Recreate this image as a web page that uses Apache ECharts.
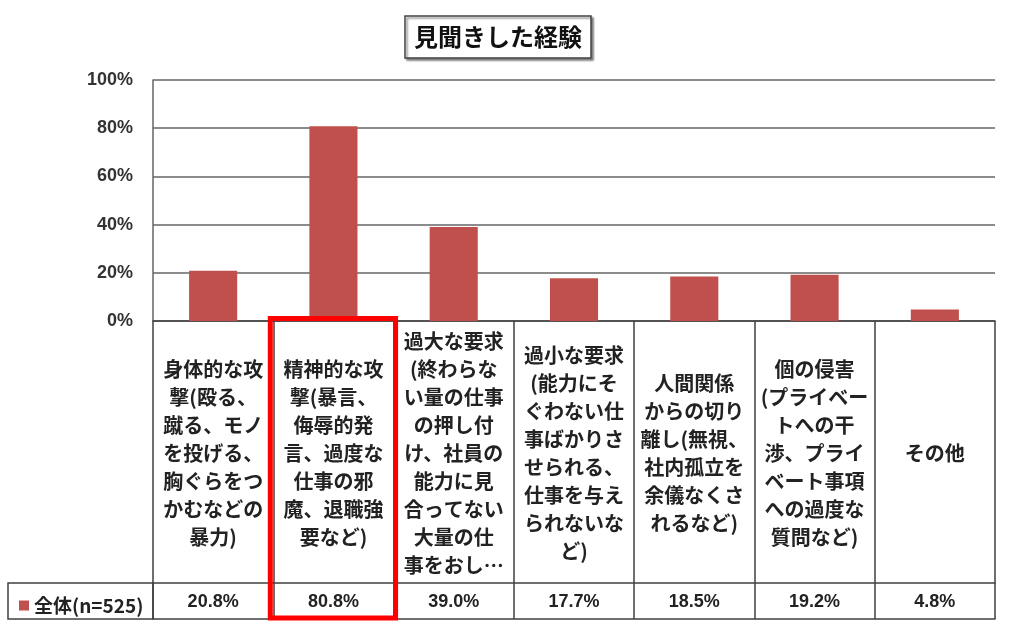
<!DOCTYPE html>
<html>
<head>
<meta charset="utf-8">
<script src="https://cdn.jsdelivr.net/npm/echarts@6/dist/echarts.min.js"></script>
<style>html,body{margin:0;padding:0;background:#fff}#c{width:1024px;height:641px}</style>
</head>
<body>
<div id="c"></div>
<script>
const titleText = '見聞きした経験';
const seriesName = '全体(n=525)';
const categories = [
  '身体的な攻\n撃(殴る、\n蹴る、モノ\nを投げる、\n胸ぐらをつ\nかむなどの\n暴力)',
  '精神的な攻\n撃(暴言、\n侮辱的発\n言、過度な\n仕事の邪\n魔、退職強\n要など)',
  '過大な要求\n(終わらな\nい量の仕事\nの押し付\nけ、社員の\n能力に見\n合ってない\n大量の仕\n事をおし…',
  '過小な要求\n(能力にそ\nぐわない仕\n事ばかりさ\nせられる、\n仕事を与え\nられないな\nど)',
  '人間関係\nからの切り\n離し(無視、\n社内孤立を\n余儀なくさ\nれるなど)',
  '個の侵害\n(プライベー\nトへの干\n渉、プライ\nベート事項\nへの過度な\n質問など)',
  'その他'
];
const values = [20.8, 80.8, 39.0, 17.7, 18.5, 19.2, 4.8];
const yTicks = {min: 0, max: 100, interval: 20};
const highlightIndex = 1;

const barColor = '#C0504D';
const lineColor = '#404040';
const numFont = '"Liberation Sans", Arial, "Noto Sans CJK JP", sans-serif';
const jpFont = '"Noto Sans CJK JP", sans-serif';

const chart = echarts.init(document.getElementById('c'));
const gridTop = 80, gridBottom = 320;
const labelRowH = 262, valueRowH = 36;

chart.setOption({
  backgroundColor: '#fff',
  animation: false,
  title: {
    text: titleText,
    left: 405, top: 16,
    padding: [8, 9],
    borderColor: '#444',
    borderWidth: 1.5,
    backgroundColor: '#fff',
    shadowColor: 'rgba(0,0,0,0.45)',
    shadowOffsetX: 2, shadowOffsetY: 2, shadowBlur: 2,
    textStyle: {fontFamily: jpFont, fontWeight: 'bold', fontSize: 24, color: '#111', lineHeight: 26}
  },
  legend: {
    data: [seriesName],
    left: 14, top: 591,
    icon: 'rect', itemWidth: 10, itemHeight: 10,
    textStyle: {fontFamily: jpFont, fontWeight: 'bold', fontSize: 19, color: '#222'},
    selectedMode: false
  },
  grid: {left: 153, right: 29, top: gridTop, bottom: gridBottom},
  xAxis: [
    {
      type: 'category', data: categories, position: 'bottom',
      axisLine: {show: true, lineStyle: {color: lineColor, width: 1.5}},
      axisTick: {show: true, interval: 0, length: labelRowH + valueRowH, lineStyle: {color: lineColor, width: 1.5}},
      axisLabel: {
        interval: 0, margin: 132, verticalAlign: 'middle', align: 'center',
        fontFamily: jpFont, fontWeight: 'bold', fontSize: 20, lineHeight: 28, color: '#222'
      }
    },
    {
      type: 'category', data: categories, position: 'bottom', offset: labelRowH,
      axisLine: {show: true, lineStyle: {color: lineColor, width: 1.5}},
      axisTick: {show: false},
      axisLabel: {
        interval: 0, margin: 19, verticalAlign: 'middle',
        fontFamily: numFont, fontWeight: 'bold', fontSize: 18, color: '#222',
        formatter: (v, i) => values[i].toFixed(1) + '%'
      }
    },
    {
      type: 'category', data: categories, position: 'bottom', offset: labelRowH + valueRowH,
      axisLine: {show: true, lineStyle: {color: lineColor, width: 1.5}},
      axisTick: {show: false}, axisLabel: {show: false}
    }
  ],
  yAxis: {
    type: 'value', min: yTicks.min, max: yTicks.max, interval: yTicks.interval,
    axisLine: {show: true, lineStyle: {color: '#666', width: 1.5}},
    axisTick: {show: false},
    axisLabel: {formatter: '{value}%', margin: 20, fontFamily: numFont, fontWeight: 'bold', fontSize: 18, color: '#333'},
    splitLine: {lineStyle: {color: '#666', width: 1.5}}
  },
  series: [{
    name: seriesName, type: 'bar', data: values, xAxisIndex: 0,
    barWidth: '40%', itemStyle: {color: barColor}
  }]
});

// decorative table header frame and highlight box, positioned from the axis scales
const c0 = chart.convertToPixel({xAxisIndex: 0}, categories[0]);
const c1 = chart.convertToPixel({xAxisIndex: 0}, categories[1]);
const bw = c1 - c0;
const y0 = chart.convertToPixel({yAxisIndex: 0}, 0);
const hc = chart.convertToPixel({xAxisIndex: 0}, categories[highlightIndex]);
chart.setOption({
  graphic: [
    {
      type: 'rect', silent: true, z: 10,
      shape: {x: 8, y: y0 + labelRowH, width: (c0 - bw / 2) - 8, height: valueRowH},
      style: {fill: 'none', stroke: lineColor, lineWidth: 1.5}
    },
    {
      type: 'rect', silent: true, z: 20,
      shape: {x: hc - bw / 2 - 3, y: y0 - 2.5, width: bw + 5, height: labelRowH + valueRowH + 1.5},
      style: {fill: 'none', stroke: '#FF0000', lineWidth: 5}
    }
  ]
});
</script>
</body>
</html>
